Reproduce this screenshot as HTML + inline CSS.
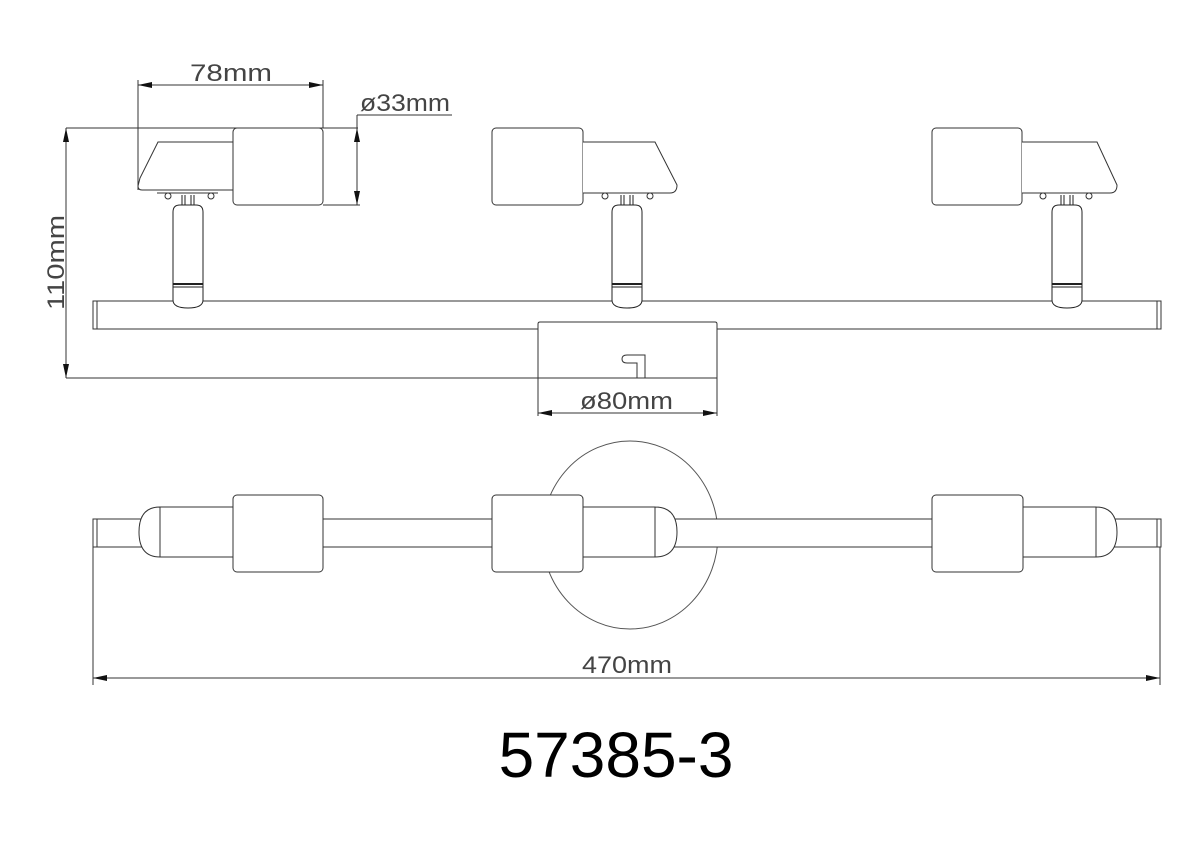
<!DOCTYPE html>
<html><head><meta charset="utf-8"><style>
html,body{margin:0;padding:0;background:#fff;}
svg{display:block;}
text{font-family:"Liberation Sans",sans-serif;fill:#444;}
</style></head><body>
<svg width="1200" height="848" viewBox="0 0 1200 848" xmlns="http://www.w3.org/2000/svg">
<defs>
<g id="stem" fill="none" stroke="#222" stroke-width="1">
  <path d="M-15,212 Q-15,205 -8,205 L8,205 Q15,205 15,212 L15,300 Q15,308 0,308 Q-15,308 -15,300 Z" fill="#fff"/>
  <line x1="-15" y1="284" x2="15" y2="284" stroke-width="2"/>
  <line x1="-15" y1="287" x2="15" y2="287"/>
  <line x1="-6" y1="195" x2="-6" y2="205"/><line x1="-3" y1="195" x2="-3" y2="205"/>
  <line x1="6" y1="195" x2="6" y2="205"/><line x1="3" y1="195" x2="3" y2="205"/>
</g>
<marker id="ar" markerWidth="14" markerHeight="6" refX="14" refY="3" orient="auto-start-reverse" markerUnits="userSpaceOnUse">
  <path d="M0,0 L14,3 L0,6 Z" fill="#111"/>
</marker>
</defs>
<g fill="none" stroke="#333" stroke-width="1">
<rect x="93" y="301" width="1068" height="28" fill="#fff"/>
<line x1="97" y1="301" x2="97" y2="329"/><line x1="1157" y1="301" x2="1157" y2="329"/>
<path d="M538,378 L538,324 Q538,322 540,322 L715,322 Q717,322 717,324 L717,378 Z" fill="#fff"/>
<path d="M637,378 L637,363 L627,363 Q622,363 622,359 Q622,355 627,355 L645,355 L645,378"/>
<use href="#stem" x="188" y="0"/>
<use href="#stem" x="627" y="0"/>
<use href="#stem" x="1067" y="0"/>
<path d="M233,142 L158,142 L140,178 L138,186 Q138,190 142,190 L233,190" fill="#fff"/>
<rect x="233" y="128" width="90" height="77" rx="4" fill="#fff"/>
<line x1="157" y1="193" x2="218" y2="193"/>
<circle cx="168" cy="196" r="3"/><circle cx="211" cy="196" r="3"/>
<rect x="492" y="128" width="91" height="77" rx="4" fill="#fff"/>
<path d="M583,142 L655,142 L677,185 Q677,193 670,193 L583,193" fill="#fff"/>
<circle cx="605" cy="196" r="3"/><circle cx="650" cy="196" r="3"/>
<rect x="932" y="128" width="90" height="77" rx="4" fill="#fff"/>
<path d="M1022,142 L1097,142 L1117,185 Q1117,193 1110,193 L1022,193" fill="#fff"/>
<circle cx="1043" cy="196" r="3"/><circle cx="1089" cy="196" r="3"/>

<line x1="138" y1="85" x2="323" y2="85" marker-start="url(#ar)" marker-end="url(#ar)"/>
<line x1="138" y1="80" x2="138" y2="190"/>
<line x1="323" y1="80" x2="323" y2="128"/>
<line x1="357" y1="128" x2="357" y2="205" marker-start="url(#ar)" marker-end="url(#ar)"/>
<line x1="357" y1="115" x2="357" y2="128"/>
<line x1="357" y1="115" x2="452" y2="115"/>
<line x1="66" y1="128" x2="358" y2="128"/>
<line x1="323" y1="205" x2="360" y2="205"/>
<line x1="66" y1="128" x2="66" y2="378" marker-start="url(#ar)" marker-end="url(#ar)"/>
<line x1="66" y1="378" x2="538" y2="378"/>
<line x1="538" y1="378" x2="538" y2="416"/><line x1="717" y1="378" x2="717" y2="416"/>
<line x1="538" y1="413" x2="717" y2="413" marker-start="url(#ar)" marker-end="url(#ar)"/>

<ellipse cx="630" cy="535" rx="88" ry="94" stroke="#555"/>
<rect x="93" y="519" width="1068" height="28" fill="#fff"/>
<line x1="97" y1="519" x2="97" y2="547"/><line x1="1157" y1="519" x2="1157" y2="547"/>
<path d="M160,507 Q139,507 139,532 Q139,557 160,557 Z M160,507 L233,507 L233,557 L160,557" fill="#fff"/>
<path d="M583,507 L655,507 L655,557 L583,557 Z M655,507 Q677,507 677,532 Q677,557 655,557" fill="#fff"/>
<path d="M1023,507 L1096,507 L1096,557 L1023,557 Z M1096,507 Q1117,507 1117,532 Q1117,557 1096,557" fill="#fff"/>
<rect x="233" y="495" width="90" height="77" rx="4" fill="#fff"/>
<rect x="492" y="495" width="91" height="77" rx="4" fill="#fff"/>
<rect x="932" y="495" width="91" height="77" rx="4" fill="#fff"/>
<line x1="93" y1="547" x2="93" y2="685"/><line x1="1160" y1="547" x2="1160" y2="685"/>
<line x1="93" y1="678" x2="1160" y2="678" marker-start="url(#ar)" marker-end="url(#ar)"/>
</g>
<text x="190" y="81" font-size="24" textLength="82" lengthAdjust="spacingAndGlyphs">78mm</text>
<text x="360" y="111" font-size="24" textLength="90" lengthAdjust="spacingAndGlyphs">ø33mm</text>
<text x="580" y="409" font-size="24" textLength="93" lengthAdjust="spacingAndGlyphs">ø80mm</text>
<text x="582" y="673" font-size="24" textLength="90" lengthAdjust="spacingAndGlyphs">470mm</text>
<text transform="translate(64,310) rotate(-90)" font-size="24" textLength="95" lengthAdjust="spacingAndGlyphs">110mm</text>
<text x="616" y="777" font-size="64" text-anchor="middle" style="fill:#000">57385-3</text>
</svg>
</body></html>
